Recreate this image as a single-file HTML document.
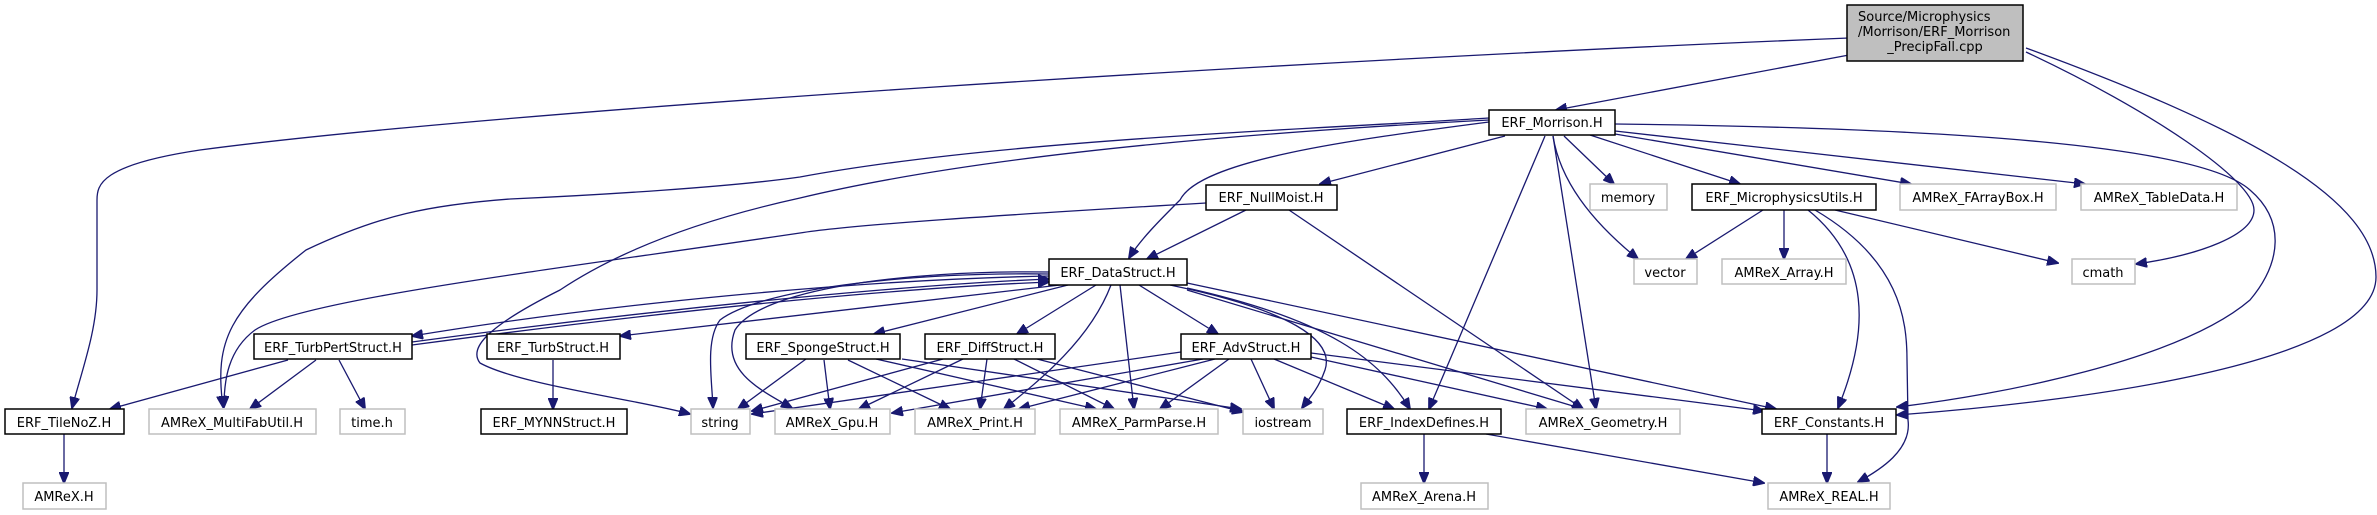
<!DOCTYPE html>
<html><head><meta charset="utf-8"><style>
html,body{margin:0;padding:0;background:#fff;}
svg{display:block;}
text{font-family:"DejaVu Sans","Liberation Sans",sans-serif;font-size:13px;fill:#000;}
.e{fill:none;stroke:#191970;stroke-width:1.3;}
.b{fill:#fff;stroke:#000;stroke-width:1.5;}
.g{fill:#fff;stroke:#bfbfbf;stroke-width:1.5;}
</style></head><body>
<svg width="2377" height="515" viewBox="0 0 2377 515" xmlns="http://www.w3.org/2000/svg">
<defs>
<marker id="a" markerWidth="12" markerHeight="10" refX="11" refY="5" orient="auto" markerUnits="userSpaceOnUse">
<path d="M0,0 L12,5 L0,10 Z" fill="#191970" stroke="#191970"/>
</marker>
</defs>
<g class="e" marker-end="url(#a)">
<path d="M1849,55 L1556,110"/>
<path d="M1849,38 C1300,60 500,110 200,150 C100,165 97,185 97,200 L97,290 C97,330 82,370 72,408"/>
<path d="M2026,52 C2150,110 2254,180 2254,210 C2254,235 2200,255 2136,264"/>
<path d="M2026,48 C2250,130 2376,200 2376,277 C2376,360 2100,400 1897,415"/>
<path d="M1489,122 C1350,140 1200,160 1180,200 C1160,220 1140,240 1129,258"/>
<path d="M1505,136 L1320,184"/>
<path d="M1489,118 C1300,130 1000,140 800,177 C730,187 600,195 510,199 C430,205 380,215 306,250 C230,310 214,340 223,407"/>
<path d="M1489,120 C1300,130 1000,150 800,198 C700,220 620,250 560,290 C480,330 470,350 480,363 C520,385 640,400 690,414"/>
<path d="M1564,136 L1614,184"/>
<path d="M1590,135 L1740,184"/>
<path d="M1615,134 L1911,184"/>
<path d="M1615,131 L2085,184"/>
<path d="M1615,124 C1950,128 2200,145 2250,190 C2285,220 2282,262 2250,300 C2180,360 2000,395 1897,407"/>
<path d="M1553,136 C1560,180 1590,220 1638,259"/>
<path d="M1545,136 L1429,409"/>
<path d="M1553,136 L1596,409"/>
<path d="M1763,210 L1686,259"/>
<path d="M1784,210 L1784,259"/>
<path d="M1835,210 L2058,263"/>
<path d="M1808,210 C1870,260 1870,330 1838,408"/>
<path d="M1815,210 C1900,260 1907,320 1907,360 L1908,420 C1912,450 1880,470 1858,482"/>
<path d="M1246,210 L1147,259"/>
<path d="M1289,210 L1583,409"/>
<path d="M1206,203 C1000,215 850,225 800,233 C550,270 300,300 255,330 C228,350 224,380 224,407"/>
<path d="M1049,276 C850,280 600,305 412,336"/>
<path d="M412,345 C600,320 850,290 1049,282"/>
<path d="M412,342 C650,310 900,285 1049,279"/>
<path d="M1049,274 C900,272 760,290 720,320 C705,340 712,380 713,408"/>
<path d="M1049,272 C900,270 760,290 735,330 C720,370 760,390 792,408"/>
<path d="M1060,285 L620,336"/>
<path d="M1068,285 L874,334"/>
<path d="M1096,285 L1017,334"/>
<path d="M1139,285 L1218,334"/>
<path d="M1111,285 C1090,340 1040,380 1004,409"/>
<path d="M1120,285 L1134,409"/>
<path d="M1170,285 C1290,310 1335,340 1325,370 C1318,390 1308,400 1302,408"/>
<path d="M1187,288 C1330,320 1380,360 1410,409"/>
<path d="M1187,290 L1583,409"/>
<path d="M1187,283 L1776,409"/>
<path d="M288,360 L110,409"/>
<path d="M316,360 L250,409"/>
<path d="M339,360 L365,409"/>
<path d="M553,360 L553,409"/>
<path d="M64,434 L64,483"/>
<path d="M806,359 L738,409"/>
<path d="M824,360 L830,409"/>
<path d="M848,360 L950,409"/>
<path d="M876,359 L1096,409"/>
<path d="M902,359 L1241,409"/>
<path d="M943,359 L752,411"/>
<path d="M963,359 L859,409"/>
<path d="M987,359 L980,409"/>
<path d="M1014,359 L1114,409"/>
<path d="M1037,359 L1243,412"/>
<path d="M1181,352 L752,414"/>
<path d="M1203,359 L892,413"/>
<path d="M1215,359 L1019,409"/>
<path d="M1229,359 L1160,409"/>
<path d="M1251,359 L1274,409"/>
<path d="M1274,359 L1394,409"/>
<path d="M1311,357 L1547,409"/>
<path d="M1311,353 L1764,411"/>
<path d="M1424,434 L1424,483"/>
<path d="M1486,434 L1764,483"/>
<path d="M1827,434 L1827,483"/>
</g>
<rect x="1847" y="5" width="176" height="56" fill="#bfbfbf" stroke="#000" stroke-width="1.5"/>
<text x="1858" y="21">Source/Microphysics</text>
<text x="1858" y="36">/Morrison/ERF_Morrison</text>
<text x="1935" y="51" text-anchor="middle">_PrecipFall.cpp</text>
<g text-anchor="middle">
<rect class="b" x="1489" y="110" width="126" height="25"/><text x="1552" y="127">ERF_Morrison.H</text>
<rect class="b" x="1206" y="185" width="131" height="25"/><text x="1271" y="202">ERF_NullMoist.H</text>
<rect class="g" x="1590" y="184" width="77" height="26"/><text x="1628" y="202">memory</text>
<rect class="b" x="1692" y="184" width="184" height="26"/><text x="1784" y="202">ERF_MicrophysicsUtils.H</text>
<rect class="g" x="1900" y="184" width="156" height="26"/><text x="1978" y="202">AMReX_FArrayBox.H</text>
<rect class="g" x="2081" y="184" width="156" height="26"/><text x="2159" y="202">AMReX_TableData.H</text>
<rect class="b" x="1049" y="259" width="138" height="26"/><text x="1118" y="277">ERF_DataStruct.H</text>
<rect class="g" x="1634" y="259" width="63" height="25"/><text x="1665" y="277">vector</text>
<rect class="g" x="1722" y="259" width="124" height="25"/><text x="1784" y="277">AMReX_Array.H</text>
<rect class="g" x="2072" y="259" width="63" height="25"/><text x="2103" y="277">cmath</text>
<rect class="b" x="254" y="334" width="158" height="25"/><text x="333" y="352">ERF_TurbPertStruct.H</text>
<rect class="b" x="487" y="334" width="133" height="25"/><text x="553" y="352">ERF_TurbStruct.H</text>
<rect class="b" x="746" y="334" width="154" height="25"/><text x="823" y="352">ERF_SpongeStruct.H</text>
<rect class="b" x="925" y="334" width="130" height="25"/><text x="990" y="352">ERF_DiffStruct.H</text>
<rect class="b" x="1181" y="334" width="130" height="25"/><text x="1246" y="352">ERF_AdvStruct.H</text>
<rect class="b" x="5" y="409" width="119" height="25"/><text x="64" y="427">ERF_TileNoZ.H</text>
<rect class="g" x="149" y="409" width="167" height="25"/><text x="232" y="427">AMReX_MultiFabUtil.H</text>
<rect class="g" x="340" y="409" width="65" height="25"/><text x="372" y="427">time.h</text>
<rect class="b" x="481" y="409" width="146" height="25"/><text x="554" y="427">ERF_MYNNStruct.H</text>
<rect class="g" x="691" y="409" width="59" height="25"/><text x="720" y="427">string</text>
<rect class="g" x="775" y="409" width="115" height="25"/><text x="832" y="427">AMReX_Gpu.H</text>
<rect class="g" x="915" y="409" width="120" height="25"/><text x="975" y="427">AMReX_Print.H</text>
<rect class="g" x="1060" y="409" width="158" height="25"/><text x="1139" y="427">AMReX_ParmParse.H</text>
<rect class="g" x="1243" y="409" width="80" height="25"/><text x="1283" y="427">iostream</text>
<rect class="b" x="1347" y="409" width="154" height="25"/><text x="1424" y="427">ERF_IndexDefines.H</text>
<rect class="g" x="1526" y="409" width="154" height="25"/><text x="1603" y="427">AMReX_Geometry.H</text>
<rect class="b" x="1762" y="409" width="134" height="25"/><text x="1829" y="427">ERF_Constants.H</text>
<rect class="g" x="23" y="483" width="83" height="26"/><text x="64" y="501">AMReX.H</text>
<rect class="g" x="1361" y="483" width="127" height="26"/><text x="1424" y="501">AMReX_Arena.H</text>
<rect class="g" x="1768" y="483" width="122" height="26"/><text x="1829" y="501">AMReX_REAL.H</text>
</g>
</svg>
</body></html>
